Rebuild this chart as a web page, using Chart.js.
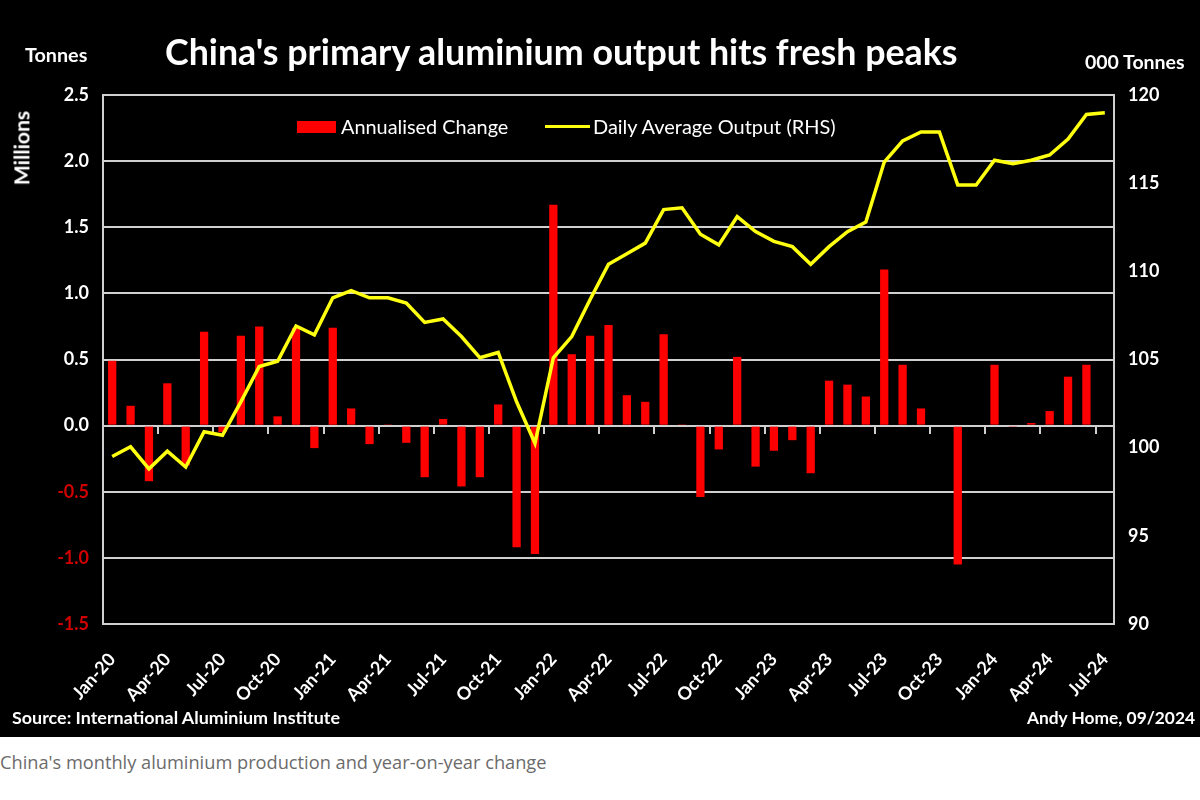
<!DOCTYPE html>
<html>
<head>
<meta charset="utf-8">
<script src="https://cdn.jsdelivr.net/npm/chart.js@4.4.1/dist/chart.umd.min.js"></script>
<style>
  html, body { margin: 0; padding: 0; background: #fff; }
  #wrap { position: relative; width: 1200px; height: 737px; background: #000; overflow: hidden; }
  #c { position: absolute; left: 0; top: 0; }
  .t { position: absolute; white-space: nowrap; font-family: Lato, "Open Sans", sans-serif; color: #fff; line-height: 1; transform: translateY(-50%); }
  .b { font-weight: bold; }
  #caption { position: absolute; white-space: nowrap; font-family: "Open Sans", Lato, sans-serif; color: #6b6b6b; line-height: 1; transform: translateY(-50%); }
  .sw { position: absolute; }
</style>
</head>
<body>
<div id="wrap">
  <canvas id="c" width="1200" height="737"></canvas>
  <div class="t b" id="title" data-w="793" style="left:165px; top:52px; font-size:31px;">China's primary aluminium output hits fresh peaks</div>
  <div class="t b" data-w="63" style="left:25px; top:55px; font-size:16px;">Tonnes</div>
  <div class="t b" data-w="100" style="left:1085px; top:62px; font-size:16px;">000 Tonnes</div>
  <div class="t b" id="millions" data-w="74" style="left:22px; top:148px; font-size:16px; transform: translate(-50%,-50%) rotate(-90deg);">Millions</div>
  <div class="sw" style="left:297px; top:121px; width:39px; height:12px; background:#ff0000;"></div>
  <div class="t" data-w="168" style="left:341px; top:127px; font-size:18px;">Annualised Change</div>
  <div class="sw" style="left:545px; top:125px; width:45px; height:3px; background:#ffff10;"></div>
  <div class="t" data-w="243" style="left:593px; top:127px; font-size:18px;">Daily Average Output (RHS)</div>
  <div class="t b" data-w="328" style="left:12px; top:718px; font-size:16px;">Source: International Aluminium Institute</div>
  <div class="t b" id="author" data-w="168" style="left:1027px; top:718px; font-size:16px;">Andy Home, 09/2024</div>
</div>
<div id="caption" data-w="547" style="left:0px; top:762px; font-size:17px;">China's monthly aluminium production and year-on-year change</div>

<script>
// ---------------- DATA ----------------
const months = [
  'Jan-20','Feb-20','Mar-20','Apr-20','May-20','Jun-20','Jul-20','Aug-20','Sep-20','Oct-20','Nov-20','Dec-20',
  'Jan-21','Feb-21','Mar-21','Apr-21','May-21','Jun-21','Jul-21','Aug-21','Sep-21','Oct-21','Nov-21','Dec-21',
  'Jan-22','Feb-22','Mar-22','Apr-22','May-22','Jun-22','Jul-22','Aug-22','Sep-22','Oct-22','Nov-22','Dec-22',
  'Jan-23','Feb-23','Mar-23','Apr-23','May-23','Jun-23','Jul-23','Aug-23','Sep-23','Oct-23','Nov-23','Dec-23',
  'Jan-24','Feb-24','Mar-24','Apr-24','May-24','Jun-24','Jul-24'
];

// Annualised change, millions of tonnes (left axis)
const annualisedChange = [
  0.49, 0.15, -0.42, 0.32, -0.30, 0.71, -0.05, 0.68, 0.75, 0.07, 0.74, -0.17,
  0.74, 0.13, -0.14, 0.01, -0.13, -0.39, 0.05, -0.46, -0.39, 0.16, -0.92, -0.97,
  1.67, 0.54, 0.68, 0.76, 0.23, 0.18, 0.69, 0.01, -0.54, -0.18, 0.52, -0.31,
  -0.19, -0.11, -0.36, 0.34, 0.31, 0.22, 1.18, 0.46, 0.13, 0.00, -1.05, 0.00,
  0.46, -0.01, 0.02, 0.11, 0.37, 0.46, null
];

// Daily average output, 000 tonnes (right axis)
const dailyAverageOutput = [
  99.5, 100.05, 98.8, 99.8, 98.9, 100.9, 100.7, 102.6, 104.6, 104.9, 106.9, 106.4,
  108.5, 108.9, 108.5, 108.5, 108.2, 107.1, 107.3, 106.3, 105.1, 105.4, 102.6, 100.25,
  105.1, 106.3, 108.4, 110.4, 111.0, 111.6, 113.5, 113.6, 112.1, 111.5, 113.1, 112.25,
  111.7, 111.4, 110.4, 111.4, 112.25, 112.8, 116.2, 117.4, 117.9, 117.9, 114.9, 114.9,
  116.3, 116.1, 116.3, 116.6, 117.5, 118.9, 119.0
];

const leftAxisRange = [-1.5, 2.5];   // millions
const rightAxisRange = [90, 120];    // 000 tonnes
const labelEvery = 3;                // a month label every quarter

// ---------------- TEXT FITTING ----------------
document.querySelectorAll('[data-w]').forEach(el => {
  const target = +el.dataset.w;
  const cur = el.offsetWidth;
  const fs = parseFloat(getComputedStyle(el).fontSize);
  if (cur > 0) el.style.fontSize = (fs * target / cur).toFixed(2) + 'px';
});
(function(){
  const a = document.getElementById('author');
  a.style.left = (1195 - a.offsetWidth) + 'px';
})();

// ---------------- CHART ----------------
const GRID = '#cfcfcf';
const FONT = 'Lato, "Open Sans", sans-serif';

new Chart(document.getElementById('c'), {
  type: 'bar',
  data: {
    labels: months,
    datasets: [
      {
        type: 'line',
        label: 'Daily Average Output (RHS)',
        data: dailyAverageOutput,
        yAxisID: 'y1',
        xAxisID: 'x',
        borderColor: '#ffff10',
        backgroundColor: '#ffff10',
        borderWidth: 3.5,
        pointRadius: 0,
        tension: 0,
        order: 0
      },
      {
        type: 'bar',
        label: 'Annualised Change',
        data: annualisedChange,
        yAxisID: 'y',
        xAxisID: 'x',
        backgroundColor: '#ff0000',
        borderWidth: 0,
        barPercentage: 0.45,
        categoryPercentage: 1.0,
        order: 1
      }
    ]
  },
  options: {
    responsive: false,
    animation: false,
    devicePixelRatio: 1,
    layout: { padding: { top: 95, left: 0, right: 0, bottom: 0 } },
    plugins: {
      legend: { display: false },
      title: { display: false },
      tooltip: { enabled: false }
    },
    scales: {
      x: {
        type: 'category',
        position: 'bottom',
        offset: true,
        grid: { display: false, drawTicks: false },
        border: { display: false },
        ticks: {
          autoSkip: false,
          maxRotation: 48,
          minRotation: 48,
          padding: 25,
          color: '#ffffff',
          font: { family: FONT, size: 18, weight: 'bold' },
          callback: function(value, index) {
            return index % labelEvery === 0 ? this.getLabelForValue(value) : '';
          }
        },
        afterFit: s => { s.height = 737 - 624; }
      },
      x2: {
        type: 'category',
        position: { y: 0 },
        offset: true,
        grid: {
          offset: true,
          drawOnChartArea: false,
          drawTicks: true,
          tickLength: 8,
          lineWidth: 2,
          color: ctx => (ctx.index % labelEvery === 0 && ctx.index > 0) ? GRID : 'rgba(0,0,0,0)'
        },
        border: { display: false },
        ticks: { display: false }
      },
      y: {
        position: 'left',
        min: leftAxisRange[0],
        max: leftAxisRange[1],
        grid: { color: GRID, lineWidth: 2, drawTicks: false },
        border: { display: true, color: GRID, width: 2 },
        ticks: {
          stepSize: 0.5,
          padding: 14,
          color: ctx => ctx.tick.value < 0 ? '#d00000' : '#ffffff',
          font: { family: FONT, size: 18, weight: 'bold' },
          callback: v => v.toFixed(1)
        },
        afterFit: s => { s.width = 103; }
      },
      y1: {
        position: 'right',
        min: rightAxisRange[0],
        max: rightAxisRange[1],
        grid: { display: false, drawTicks: false },
        border: { display: true, color: GRID, width: 2 },
        ticks: {
          stepSize: 5,
          padding: 14,
          color: '#ffffff',
          font: { family: FONT, size: 18, weight: 'bold' }
        },
        afterFit: s => { s.width = 1200 - 1114; }
      }
    }
  }
});
</script>
</body>
</html>
